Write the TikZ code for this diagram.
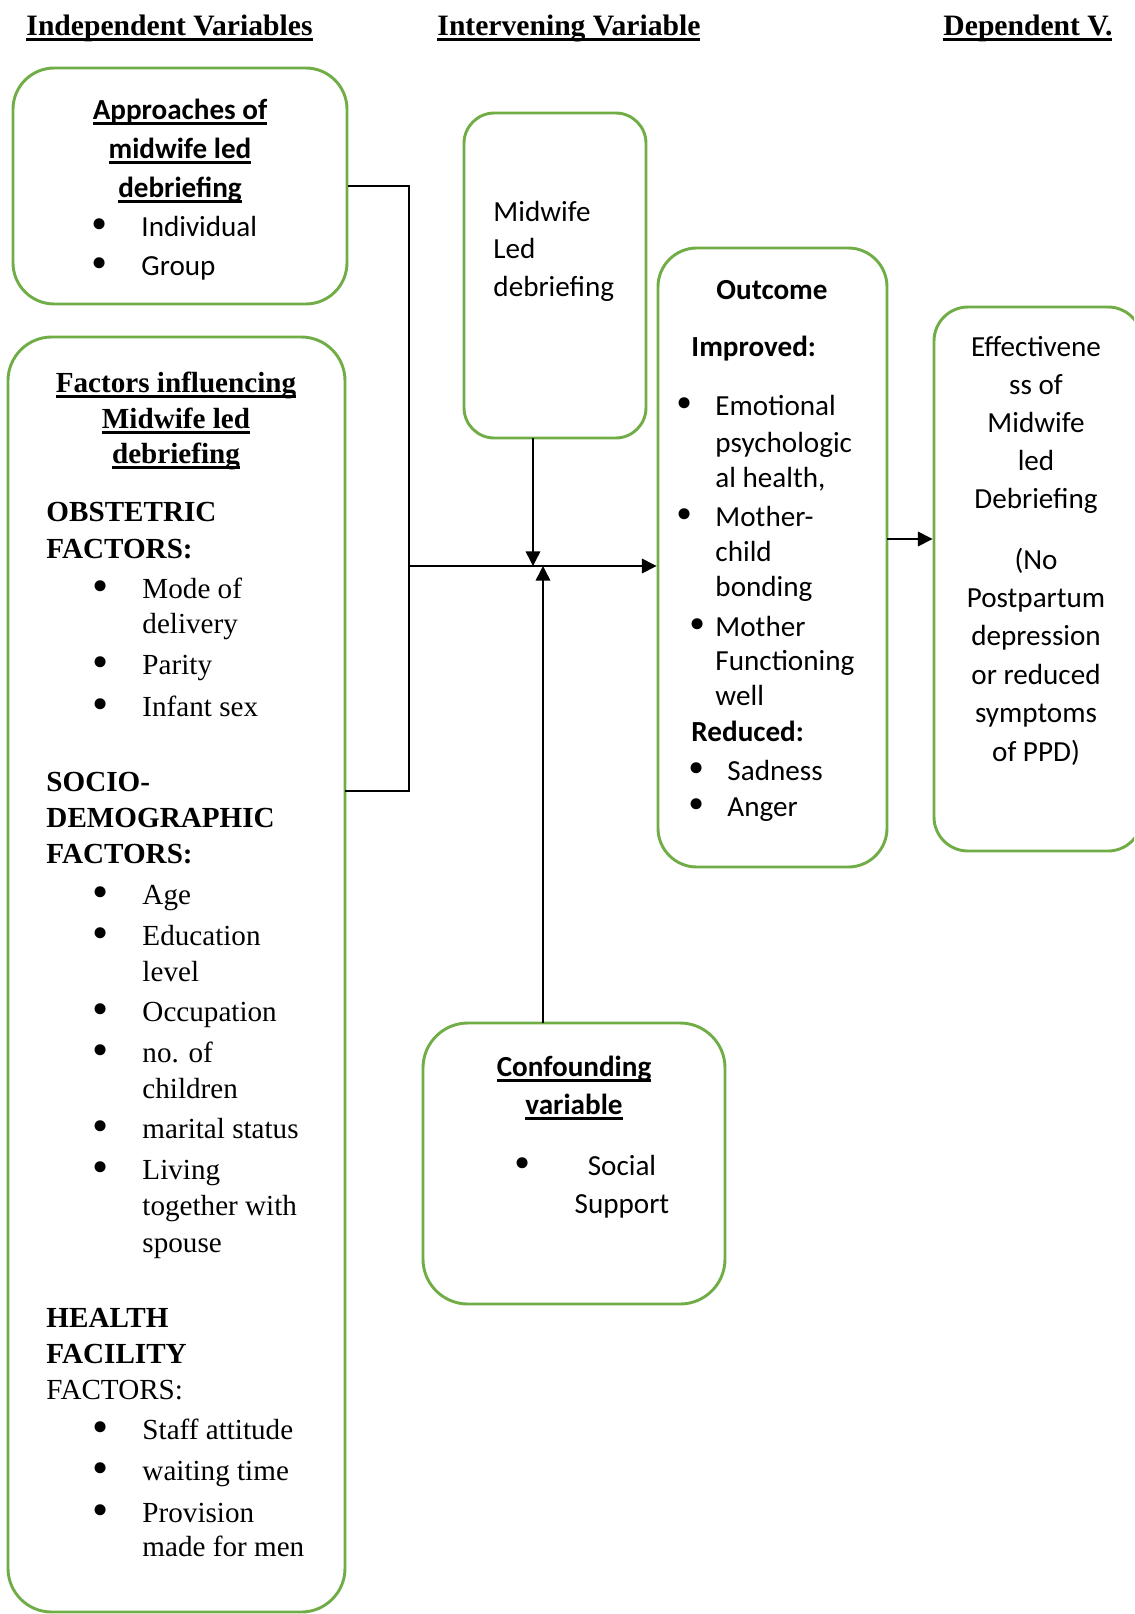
\documentclass[tikz,border=0pt]{standalone}
\usepackage{fontspec}
\setmainfont{Liberation Serif}
\newfontfamily\calibri{Carlito}
\usetikzlibrary{arrows.meta,fit}
\definecolor{boxgreen}{RGB}{112,173,71}
\newsavebox\undlbox
\newcommand{\undl}[1]{\sbox\undlbox{#1}\rlap{\vrule height -1.3pt depth 2.3pt width \wd\undlbox}\usebox\undlbox}

\begin{document}
\begin{tikzpicture}[x=0.412pt, y=-0.412pt,
  box/.style={draw=boxgreen, line width=1.2pt, inner sep=0pt, rounded corners=#1},
  box/.default=17pt,
  txt/.style={anchor=base west, inner sep=0pt, font=\fontsize{12}{14}\selectfont},
  ctxt/.style={txt, anchor=base},
  sans/.style={font=\fontsize{12}{14}\selectfont\calibri},
  sansb/.style={font=\fontsize{12}{14}\selectfont\calibri\bfseries},
  serb/.style={font=\fontsize{12}{14}\selectfont\bfseries},
  bul/.style={anchor=base, inner sep=0pt, yshift=-1.6pt, font=\fontsize{19}{19}\selectfont},
  link/.style={line width=0.6pt},
  arr/.style={link, -{Triangle[length=6pt, width=6pt]}}]

  \useasboundingbox (0,0) rectangle (1134,1614);
  \clip (0,0) rectangle (1134,1614);

  % Column headings
  \node[txt, serb, font=\fontsize{12.2}{14}\selectfont\bfseries] (hind) at (26,35) {\undl{Independent Variables}};
  \node[txt, serb, font=\fontsize{12.2}{14}\selectfont\bfseries] (hint) at (437,35) {\undl{Intervening Variable}};
  \node[txt, serb, font=\fontsize{12.2}{14}\selectfont\bfseries] (hdep) at (943,35) {\undl{Dependent V.}};

  % The boxes
  \node[box, fit={(13,68) (347,304)}] (appr) {};
  \node[box=18pt, fit={(8,337) (345,1612)}] (fact) {};
  \node[box=12.5pt, fit={(464,113) (646,438)}] (midw) {};
  \node[box=16pt, fit={(658,248) (887,867)}] (outc) {};
  \node[box=14pt, fit={(934,307) (1142,851)}] (effe) {};
  \node[box=18.5pt, fit={(423,1023) (725,1304)}] (conf) {};

  % Approaches of midwife led debriefing
  \foreach \y/\t [count=\i] in {119/Approaches of, 158/midwife led, 197/debriefing}
    \node[ctxt, sansb] (appr-h\i) at (180,\y) {\undl{\t}};
  \foreach \y/\t [count=\i] in {236/Individual, 275/Group} {
    \node[bul] (appr-b\i) at (100,\y) {•};
    \node[txt, sans] (appr-t\i) at (141,\y) {\t};
  }

  % Factors influencing midwife led debriefing
  \foreach \y/\t [count=\i] in {392/Factors influencing, 428/Midwife led, 463/debriefing}
    \node[ctxt, serb] (fact-h\i) at (176,\y) {\undl{\t}};
  \foreach \y/\t [count=\i] in {521/OBSTETRIC, 558/FACTORS:, 791/SOCIO-,
      827/DEMOGRAPHIC, 863/FACTORS:, 1327/HEALTH, 1363/FACILITY}
    \node[txt, serb] (fact-g\i) at (46,\y) {\t};
  \node[txt] (fact-g8) at (46,1399) {FACTORS:};
  \foreach \y [count=\i] in {598,674,716,904,945,1021,1062,1138,1179,1439,1480,1522}
    \node[bul] (fact-b\i) at (101,\y) {•};
  \foreach \y/\t [count=\i] in {598/Mode of, 633/delivery, 674/Parity, 716/Infant sex,
      904/Age, 945/Education, 981/level, 1021/Occupation, 1062/no. of,
      1098/children, 1138/marital status, 1179/Living, 1215/together with,
      1252/spouse, 1439/Staff attitude, 1480/waiting time, 1522/Provision,
      1556/made for men}
    \node[txt] (fact-t\i) at (142,\y) {\t};

  % Midwife led debriefing
  \foreach \y/\t [count=\i] in {221/Midwife, 258/Led, 296/debriefing}
    \node[txt, sans] (midw-t\i) at (493,\y) {\t};

  % Outcome
  \node[ctxt, sansb] (outc-h) at (772,299) {Outcome};
  \node[txt, sansb] (outc-imp) at (691,356) {Improved:};
  \node[txt, sansb] (outc-red) at (691,741) {Reduced:};
  \foreach \x/\y [count=\i] in {685/415, 685/526, 698/636, 697/780, 697/816}
    \node[bul] (outc-b\i) at (\x,\y) {•};
  \foreach \y/\t [count=\i] in {415/Emotional, 452/psychologic, 487/{al health,},
      526/Mother-, 561/child, 596/bonding, 636/Mother, 670/Functioning, 705/well}
    \node[txt, sans] (outc-t\i) at (715,\y) {\t};
  \node[txt, sans] (outc-s1) at (727,780) {Sadness};
  \node[txt, sans] (outc-s2) at (727,816) {Anger};

  % Effectiveness of midwife led debriefing
  \foreach \y/\t [count=\i] in {356/Effectivene, 394/ss of, 432/Midwife, 470/led,
      508/Debriefing, 569/(No, 607/Postpartum, 645/depression, 684/or reduced,
      722/symptoms, 761/of PPD)}
    \node[ctxt, sans] (effe-t\i) at (1036,\y) {\t};

  % Confounding variable
  \node[ctxt, sansb] (conf-h1) at (574,1076) {\undl{Confounding}};
  \node[ctxt, sansb] (conf-h2) at (574,1114) {\undl{variable}};
  \node[bul] (conf-b1) at (523,1175) {•};
  \node[ctxt, sans] (conf-t1) at (622,1175) {Social};
  \node[ctxt, sans] (conf-t2) at (622,1213) {Support};

  % Connectors
  \coordinate (junc) at (409,566);
  \coordinate (factout) at (345,791);
  \coordinate (mwout) at (533,438);
  \coordinate (cfin) at (543,1023);
  \coordinate (oe) at (887,539);
  \draw[link] (appr.east) -| (junc);
  \draw[link] (factout) -| (junc);
  \draw[arr] (junc) -- (outc.west |- junc);
  \draw[arr] (mwout) -- (mwout |- junc);
  \draw[arr] (cfin) -- (cfin |- junc);
  \draw[arr] (oe) -- (oe -| effe.west);

\end{tikzpicture}
\end{document}
